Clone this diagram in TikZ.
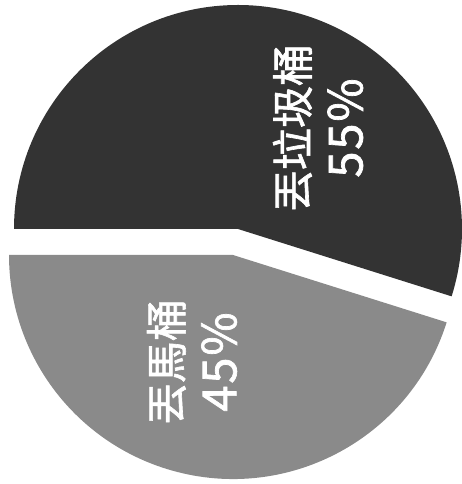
\documentclass[tikz,border=0pt]{standalone}
\usepackage{fontspec}
\newfontfamily\cjk[FakeBold=1.5]{Noto Sans CJK TC}
\newfontfamily\cjknum[FakeBold=1.5,LetterSpace=4]{Noto Sans CJK TC}
\definecolor{trashgray}{gray}{0.2}
\definecolor{toiletgray}{gray}{0.54}
\begin{document}
\begin{tikzpicture}[x=1pt,y=1pt,pielabel/.style={text=white,rotate=90,align=center,font=\cjk\fontsize{42}{54}\selectfont}]
\def\rad{224} \def\cut{-17.5}
\useasboundingbox (0,0) rectangle (461,484);
\fill[trashgray] (238,255) -- ++(180:\rad) arc[start angle=180,end angle=\cut,radius=\rad] -- cycle;
\fill[toiletgray] (233,229) -- ++(\cut:\rad) arc[start angle=\cut,end angle=-180,radius=\rad] -- cycle;
\node[pielabel] (trash) at (318,356) {丟垃圾桶\\{\cjknum\fontsize{47}{54}\selectfont 55\%}};
\node[pielabel] (toilet) at (192,122) {丟馬桶\\{\cjknum\fontsize{47}{54}\selectfont 45\%}};
\end{tikzpicture}
\end{document}
